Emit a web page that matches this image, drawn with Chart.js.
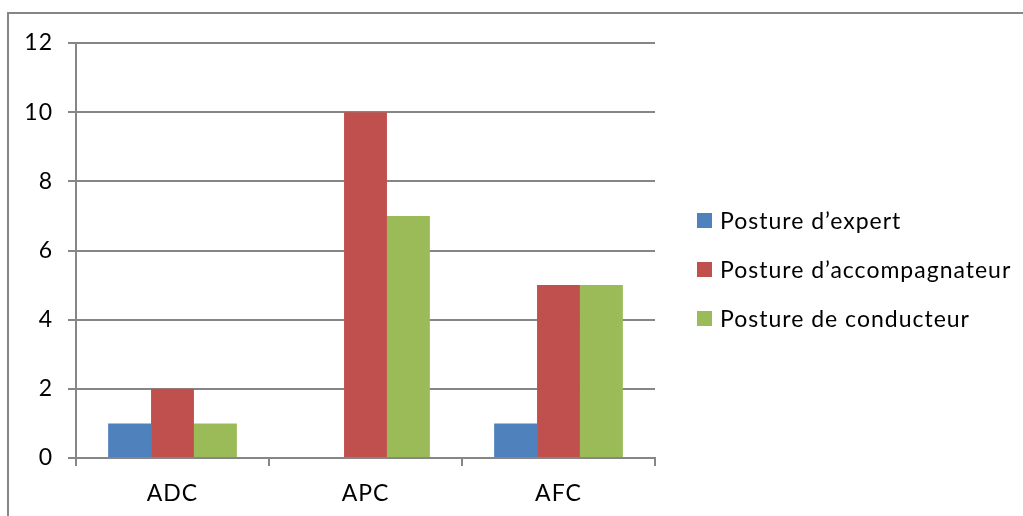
<!DOCTYPE html>
<html>
<head>
<meta charset="utf-8">
<script src="https://cdn.jsdelivr.net/npm/chart.js@4/dist/chart.umd.min.js"></script>
<style>
  html, body { margin: 0; padding: 0; background: #fff; }
  #wrap { width: 1023px; height: 516px; position: relative; }
</style>
</head>
<body>
<div id="wrap"><canvas id="c"></canvas></div>
<script>
// Categories and series values
const categories = ['ADC', 'APC', 'AFC'];
const seriesNames = ['Posture d’expert', 'Posture d’accompagnateur', 'Posture de conducteur'];
const expert = [1, 0, 1];
const accompagnateur = [2, 10, 5];
const conducteur = [1, 7, 5];
const yMin = 0;
const yMax = 12;
const yStep = 2;

const colors = ['#4F81BD', '#C0504D', '#9BBB59'];
const FONT = 'Lato';
const FONT_SIZE = 23;
const axisGray = '#868686';

// Outer frame (left and top edges of the chart box); also widens text tracking
const frame = {
  id: 'frame',
  beforeDraw(chart) {
    const ctx = chart.ctx;
    ctx.save();
    ctx.strokeStyle = axisGray;
    ctx.lineWidth = 2;
    ctx.beginPath();
    ctx.moveTo(8, chart.height);
    ctx.lineTo(8, 13);
    ctx.lineTo(chart.width, 13);
    ctx.stroke();
    ctx.restore();
    ctx.letterSpacing = '1px';
  }
};

// Legend on the right, built from the datasets
const sideLegend = {
  id: 'sideLegend',
  afterDraw(chart) {
    const ctx = chart.ctx;
    ctx.save();
    ctx.font = FONT_SIZE + 'px ' + FONT;
    ctx.letterSpacing = '1px';
    ctx.textBaseline = 'alphabetic';
    ctx.textAlign = 'left';
    chart.data.datasets.forEach((ds, i) => {
      const cy = 220.5 + i * 49;
      ctx.fillStyle = ds.backgroundColor;
      ctx.fillRect(697, cy - 7.5, 15, 15);
      ctx.fillStyle = '#000';
      ctx.fillText(ds.label, 720, cy + 8.3);
    });
    ctx.restore();
  }
};

const seriesValues = [expert, accompagnateur, conducteur];

new Chart(document.getElementById('c'), {
  type: 'bar',
  data: {
    labels: categories,
    datasets: seriesNames.map((name, i) => ({
      label: name,
      data: seriesValues[i],
      backgroundColor: colors[i],
      borderWidth: 0,
      barPercentage: 1,
      categoryPercentage: 0.667
    }))
  },
  options: {
    responsive: true,
    maintainAspectRatio: false,
    animation: false,
    events: [],
    layout: { padding: { left: 0, top: 43, right: 368, bottom: 0 } },
    plugins: {
      legend: { display: false },
      tooltip: { enabled: false }
    },
    scales: {
      x: {
        offset: true,
        afterFit(scale) { scale.height = 58; },
        grid: {
          display: true,
          offset: true,
          drawOnChartArea: false,
          drawTicks: true,
          tickLength: 8,
          color: axisGray,
          lineWidth: 2
        },
        border: { display: true, color: axisGray, width: 2 },
        ticks: {
          color: '#000',
          padding: 14,
          font: { family: FONT, size: FONT_SIZE }
        }
      },
      y: {
        min: yMin,
        max: yMax,
        afterFit(scale) { scale.width = 76; },
        grid: {
          color: axisGray,
          lineWidth: 2,
          drawTicks: true,
          tickLength: 8
        },
        border: { display: true, color: axisGray, width: 2 },
        ticks: {
          stepSize: yStep,
          color: '#000',
          padding: 15,
          font: { family: FONT, size: FONT_SIZE }
        }
      }
    }
  },
  plugins: [frame, sideLegend]
});
</script>
</body>
</html>
